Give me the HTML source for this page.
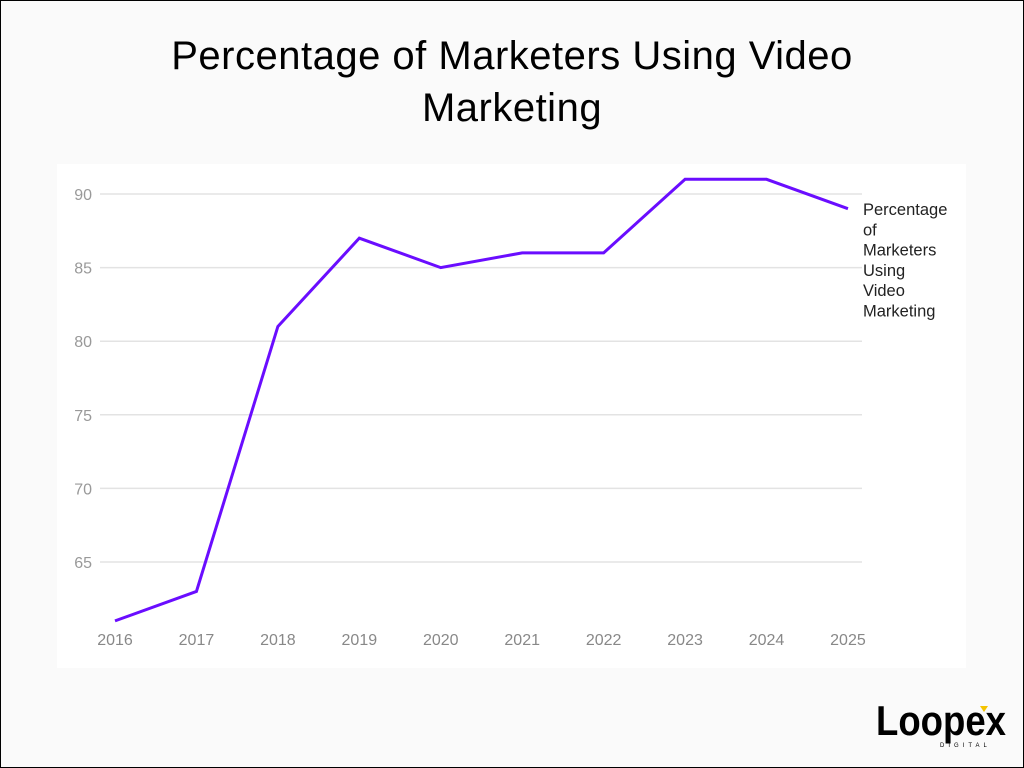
<!DOCTYPE html>
<html><head><meta charset="utf-8"><style>
html,body{margin:0;padding:0}
body{width:1024px;height:768px;background:#fafafa;font-family:"Liberation Sans",sans-serif;position:relative;overflow:hidden}
#frame{position:absolute;left:0;top:0;width:1022px;height:766px;border:1px solid #000}
#title{position:absolute;left:0;width:1024px;top:30px;text-align:center;font-size:40px;line-height:52px;color:#000;letter-spacing:0.5px}
</style></head><body>
<div id="frame"></div>
<div id="title">Percentage of Marketers Using Video<br>Marketing</div>
<svg id="chart" width="1024" height="768" style="position:absolute;left:0;top:0">
<rect x="57" y="164" width="909" height="504" fill="#fff"/>
<g id="grid"></g><g id="xt"></g><g id="series"></g>
<text x="863" y="215" font-size="16.5" fill="#222">
<tspan x="863">Percentage</tspan><tspan x="863" dy="20.3">of</tspan><tspan x="863" dy="20.3">Marketers</tspan><tspan x="863" dy="20.3">Using</tspan><tspan x="863" dy="20.3">Video</tspan><tspan x="863" dy="20.3">Marketing</tspan></text>
<g>
<text x="876" y="735" font-size="42" font-weight="bold" fill="#000" textLength="130" lengthAdjust="spacingAndGlyphs">Loopex</text>
<polygon points="980,706 988,706 984,712" fill="#f5c400"/>
<text x="940" y="747" font-size="6" fill="#000" letter-spacing="4">DIGITAL</text>
</g>
</svg>
<script>
const years=[2016,2017,2018,2019,2020,2021,2022,2023,2024,2025];
const values=[61,63,81,87,85,86,86,91,91,89];
const yTicks=[65,70,75,80,85,90];
const NS="http://www.w3.org/2000/svg";
const x=y=>115+(y-2016)*81.44;
const yy=v=>194+(90-v)*14.72;
const grid=document.getElementById('grid'),xt=document.getElementById('xt'),ser=document.getElementById('series');
yTicks.forEach(t=>{
 const l=document.createElementNS(NS,'line');
 l.setAttribute('x1',100);l.setAttribute('x2',862);l.setAttribute('y1',yy(t));l.setAttribute('y2',yy(t));
 l.setAttribute('stroke','#e3e3e3');l.setAttribute('stroke-width','1.5');
 
 
 grid.appendChild(l);
 const tx=document.createElementNS(NS,'text');
 tx.setAttribute('x',92);tx.setAttribute('y',yy(t)+6);tx.setAttribute('text-anchor','end');
 tx.setAttribute('font-size','16');tx.setAttribute('fill','#999');tx.textContent=t;
 
 
 grid.appendChild(tx);
});
years.forEach(yr=>{
 const tx=document.createElementNS(NS,'text');
 tx.setAttribute('x',x(yr));tx.setAttribute('y',645);tx.setAttribute('text-anchor','middle');
 tx.setAttribute('font-size','16');tx.setAttribute('fill','#888');tx.textContent=yr;
 
 
 xt.appendChild(tx);
});
const p=document.createElementNS(NS,'polyline');
p.setAttribute('points',years.map((yr,i)=>x(yr)+','+yy(values[i])).join(' '));
p.setAttribute('fill','none');p.setAttribute('stroke','#6a0dff');p.setAttribute('stroke-width','3');


ser.appendChild(p);
</script>
</body></html>
